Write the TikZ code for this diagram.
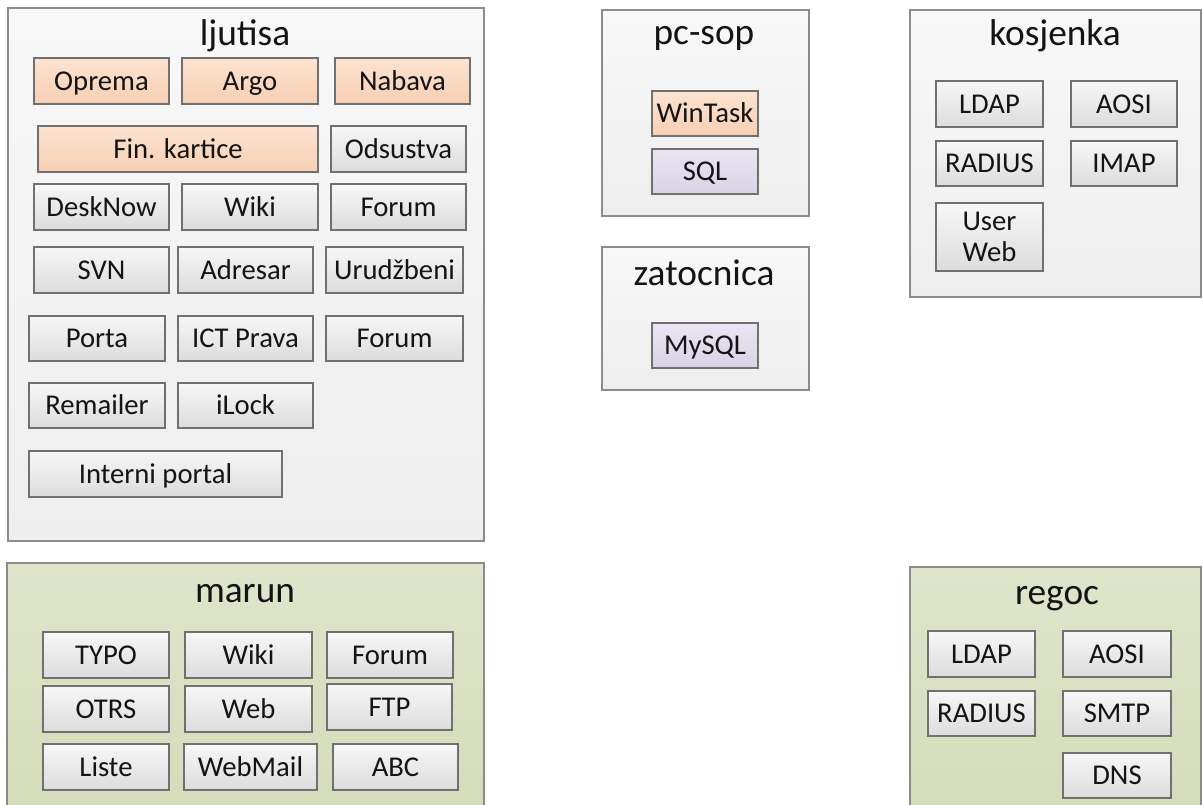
\documentclass[tikz,border=0pt]{standalone}
\usepackage{fontspec}
\setmainfont{Carlito}
\usetikzlibrary{shadows,positioning,calc}
\definecolor{frameGray}{HTML}{8C8C8C}
\definecolor{boxEdge}{HTML}{707070}
\definecolor{textDark}{HTML}{141414}
\definecolor{hostGrayTop}{HTML}{F8F8F8}
\definecolor{hostGrayBot}{HTML}{EEEEEE}
\definecolor{hostGreenTop}{HTML}{DFE5CB}
\definecolor{hostGreenBot}{HTML}{D4DCBA}
\definecolor{svcTop}{HTML}{F7F7F7}
\definecolor{svcBot}{HTML}{DCDCDC}
\definecolor{orangeTop}{HTML}{FCE3D1}
\definecolor{orangeBot}{HTML}{F7CFB3}
\definecolor{purpleTop}{HTML}{EAE5F1}
\definecolor{purpleBot}{HTML}{D9D2E5}
\tikzset{
  host/.style={draw=frameGray, line width=0.9pt, inner sep=0pt},
  hostgray/.style={host, top color=hostGrayTop, bottom color=hostGrayBot},
  hostgreen/.style={host, top color=hostGreenTop, bottom color=hostGreenBot},
  hosttitle/.style={anchor=base, inner sep=0pt, text=textDark,
    font=\fontsize{28}{30}\selectfont},
  svc/.style={draw=boxEdge, line width=0.8pt, inner sep=0pt, align=center,
    text=textDark, font=\fontsize{21.5}{23}\selectfont,
    text height=16pt, text depth=2.5pt,
    top color=svcTop, bottom color=svcBot,
    drop shadow={opacity=0.18, shadow xshift=1pt, shadow yshift=-1pt}},
  svcwrap/.style={svc, text height=, text depth=},
  svcorange/.style={svc, top color=orangeTop, bottom color=orangeBot},
  svcpurple/.style={svc, top color=purpleTop, bottom color=purpleBot},
}
% box from corner (x1,y1) to corner (x2,y2), pixel units
\newcommand{\svcbox}[7][svc]{%
  \node[#1, minimum width={(#5-#3)*0.75pt}, minimum height={(#6-#4)*0.75pt}]
    (#2) at ({(#3+#5)/2},{(#4+#6)/2}) {#7};}

\begin{document}
\begin{tikzpicture}[x=0.75pt, y=-0.75pt]
  \useasboundingbox (0,0) rectangle (1202,804);

  % ljutisa
  \svcbox[hostgray]{ljutisa}{8}{8}{484}{541}{}
  \node[hosttitle] (ljutisaT) at (245,45) {ljutisa};
  \svcbox[svcorange]{oprema}{34}{58}{169}{104}{Oprema}
  \svcbox[svcorange]{argo}{182}{58}{318}{104}{Argo}
  \svcbox[svcorange]{nabava}{335}{58}{470}{104}{Nabava}
  \svcbox[svcorange]{finkart}{38}{126}{318}{172}{Fin. kartice}
  \svcbox{odsustva}{331}{126}{466}{172}{Odsustva}
  \svcbox{desknow}{34}{184}{169}{230}{DeskNow}
  \svcbox{wikiA}{182}{184}{318}{230}{Wiki}
  \svcbox{forumA}{331}{184}{466}{230}{Forum}
  \svcbox{svn}{34}{247}{169}{293}{SVN}
  \svcbox{adresar}{178}{247}{313}{293}{Adresar}
  \svcbox{urudzbeni}{326}{247}{463}{293}{Urudžbeni}
  \svcbox{porta}{29}{316}{165}{361}{Porta}
  \svcbox{ictprava}{178}{316}{313}{361}{ICT Prava}
  \svcbox{forumB}{326}{316}{463}{361}{Forum}
  \svcbox{remailer}{29}{383}{165}{428}{Remailer}
  \svcbox{ilock}{178}{383}{313}{428}{iLock}
  \svcbox{interni}{29}{451}{282}{497}{Interni portal}

  % marun
  \svcbox[hostgreen]{marun}{7}{563}{484}{815}{}
  \node[hosttitle] (marunT) at (245,602) {marun};
  \svcbox{typo}{43}{632}{169}{678}{TYPO}
  \svcbox{wikiM}{185}{632}{312}{678}{Wiki}
  \svcbox{forumM}{327}{632}{453}{678}{Forum}
  \svcbox{otrs}{43}{686}{169}{732}{OTRS}
  \svcbox{web}{185}{686}{312}{732}{Web}
  \svcbox{ftp}{327}{684}{452}{730}{FTP}
  \svcbox{liste}{43}{744}{169}{790}{Liste}
  \svcbox{webmail}{184}{744}{317}{790}{WebMail}
  \svcbox{abc}{333}{744}{458}{790}{ABC}

  % pc-sop
  \svcbox[hostgray]{pcsop}{602}{10}{809}{216}{}
  \node[hosttitle] (pcsopT) at (704,44) {pc-sop};
  \svcbox[svcorange]{wintask}{652}{91}{758}{136}{WinTask}
  \svcbox[svcpurple]{sql}{652}{149}{758}{194}{SQL}

  % zatocnica
  \svcbox[hostgray]{zatocnica}{602}{247}{809}{390}{}
  \node[hosttitle] (zatocnicaT) at (704,285) {zatocnica};
  \svcbox[svcpurple]{mysql}{652}{323}{758}{368}{MySQL}

  % kosjenka
  \svcbox[hostgray]{kosjenka}{910}{10}{1201}{297}{}
  \node[hosttitle] (kosjenkaT) at (1055,45) {kosjenka};
  \svcbox{ldapK}{936}{81}{1043}{127}{LDAP}
  \svcbox{aosiK}{1071}{81}{1177}{127}{AOSI}
  \svcbox{radiusK}{936}{141}{1043}{186}{RADIUS}
  \svcbox{imap}{1071}{141}{1177}{186}{IMAP}
  \svcbox[svcwrap]{userweb}{936}{203}{1043}{271}{User\\Web}

  % regoc
  \svcbox[hostgreen]{regoc}{910}{567}{1201}{815}{}
  \node[hosttitle] (regocT) at (1057,604) {regoc};
  \svcbox{ldapR}{928}{631}{1035}{677}{LDAP}
  \svcbox{aosiR}{1063}{631}{1171}{677}{AOSI}
  \svcbox{radiusR}{928}{691}{1035}{736}{RADIUS}
  \svcbox{smtp}{1063}{691}{1171}{736}{SMTP}
  \svcbox{dns}{1063}{753}{1171}{798}{DNS}
\end{tikzpicture}
\end{document}
